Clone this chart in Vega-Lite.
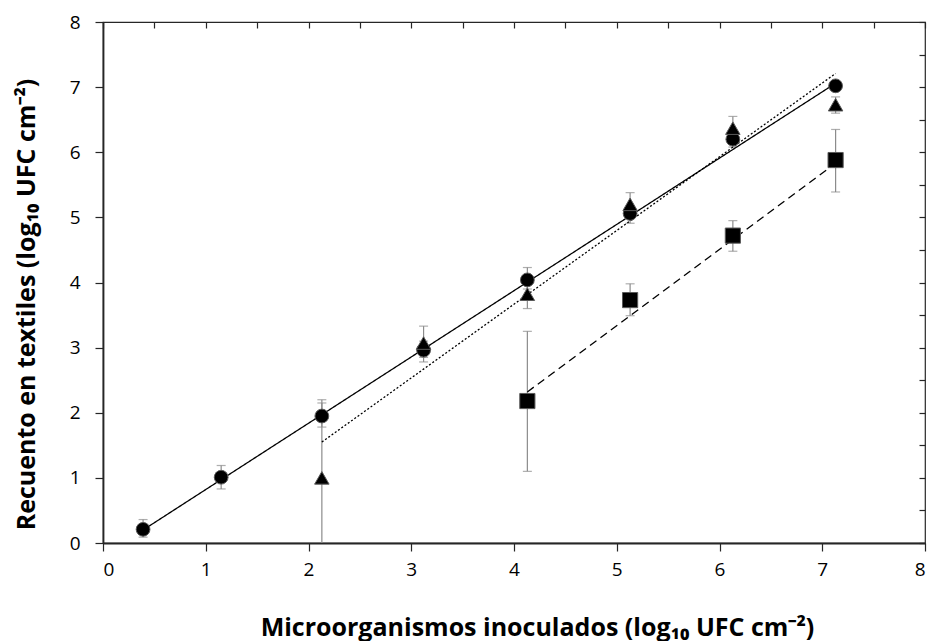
{
  "$schema": "https://vega.github.io/schema/vega-lite/v6.json",
  "width": 822,
  "height": 521,
  "autosize": {"type": "none"},
  "padding": {"left": 103, "top": 22, "right": 6, "bottom": 98},
  "background": "white",
  "config": {
    "view": {"stroke": "#262626", "strokeWidth": 1.2},
    "font": "Open Sans"
  },
  "datasets": {
    "puntos": [
      {"serie": "circulo", "x": 0.39, "y": 0.21, "lo": 0.09, "hi": 0.36},
      {"serie": "circulo", "x": 1.15, "y": 1.01, "lo": 0.83, "hi": 1.19},
      {"serie": "circulo", "x": 2.13, "y": 1.95, "lo": 1.78, "hi": 2.15},
      {"serie": "circulo", "x": 3.12, "y": 2.96, "lo": 2.78, "hi": 3.1},
      {"serie": "circulo", "x": 4.13, "y": 4.04, "lo": 3.9, "hi": 4.23},
      {"serie": "circulo", "x": 5.13, "y": 5.06, "lo": 4.91, "hi": 5.15},
      {"serie": "circulo", "x": 6.13, "y": 6.2, "lo": 6.08, "hi": 6.3},
      {"serie": "circulo", "x": 7.13, "y": 7.02, "lo": 6.95, "hi": 7.08},
      {"serie": "triangulo", "x": 2.13, "y": 1.0, "lo": -0.3, "hi": 2.2},
      {"serie": "triangulo", "x": 3.12, "y": 3.07, "lo": 2.85, "hi": 3.33},
      {"serie": "triangulo", "x": 4.13, "y": 3.82, "lo": 3.6, "hi": 4.0},
      {"serie": "triangulo", "x": 5.13, "y": 5.2, "lo": 5.0, "hi": 5.38},
      {"serie": "triangulo", "x": 6.13, "y": 6.37, "lo": 6.2, "hi": 6.55},
      {"serie": "triangulo", "x": 7.13, "y": 6.73, "lo": 6.6, "hi": 6.85},
      {"serie": "cuadrado", "x": 4.13, "y": 2.18, "lo": 1.1, "hi": 3.25},
      {"serie": "cuadrado", "x": 5.13, "y": 3.73, "lo": 3.49, "hi": 3.98},
      {"serie": "cuadrado", "x": 6.13, "y": 4.72, "lo": 4.48, "hi": 4.95},
      {"serie": "cuadrado", "x": 7.13, "y": 5.88, "lo": 5.39, "hi": 6.35}
    ],
    "rectas": [
      {"serie": "circulo", "x": 0.39, "y": 0.2},
      {"serie": "circulo", "x": 7.13, "y": 7.06},
      {"serie": "triangulo", "x": 2.13, "y": 1.55},
      {"serie": "triangulo", "x": 7.13, "y": 7.21},
      {"serie": "cuadrado", "x": 4.13, "y": 2.32},
      {"serie": "cuadrado", "x": 7.13, "y": 5.83}
    ]
  },
  "resolve": {"axis": {"x": "independent", "y": "independent"}},
  "layer": [
    {
      "data": {"name": "puntos"},
      "mark": {"type": "rule", "color": "#8c8c8c", "strokeWidth": 1.2, "clip": true},
      "encoding": {
        "x": {"field": "x", "type": "quantitative",
          "scale": {"domain": [0, 8], "nice": false},
          "axis": {"values": [0,1,2,3,4,5,6,7,8], "grid": false, "tickSize": 8, "tickColor": "#262626", "tickWidth": 1.2,
            "domainColor": "#262626", "domainWidth": 1.8,
            "labelFont": "Open Sans", "labelFontSize": 19, "labelColor": "#000000", "labelPadding": 9,
            "title": "Microorganismos inoculados (log₁₀ UFC cm⁻²)",
            "titleFont": "Open Sans", "titleFontSize": 25, "titleFontWeight": "bold", "titleColor": "#000000",
            "titleX": 434, "titleY": 84, "titleAnchor": null, "titleAlign": "center", "titleBaseline": "middle"}},
        "y": {"field": "lo", "type": "quantitative",
          "scale": {"domain": [0, 8], "nice": false},
          "axis": {"values": [0,1,2,3,4,5,6,7,8], "grid": false, "tickSize": 8, "tickColor": "#262626", "tickWidth": 1.2,
            "domainColor": "#262626", "domainWidth": 1.8,
            "labelFont": "Open Sans", "labelFontSize": 19, "labelColor": "#000000", "labelPadding": 15,
            "title": "Recuento en textiles (log₁₀ UFC cm⁻²)",
            "titleFont": "Open Sans", "titleFontSize": 25, "titleFontWeight": "bold", "titleColor": "#000000",
            "titleX": -77, "titleY": 282, "titleAngle": -90, "titleAlign": "center", "titleBaseline": "middle"}},
        "y2": {"field": "hi"}
      }
    },
    {
      "data": {"name": "puntos"},
      "mark": {"type": "tick", "orient": "horizontal", "color": "#8c8c8c", "size": 9, "thickness": 1.2, "clip": true},
      "encoding": {
        "x": {"field": "x", "type": "quantitative",
          "axis": {"values": [0,0.5,1,1.5,2,2.5,3,3.5,4,4.5,5,5.5,6,6.5,7,7.5,8], "grid": false, "labels": false, "domain": false, "title": null,
            "tickSize": -6, "tickColor": "#262626", "tickWidth": 1.2}},
        "y": {"field": "hi", "type": "quantitative",
          "axis": {"values": [0,0.5,1,1.5,2,2.5,3,3.5,4,4.5,5,5.5,6,6.5,7,7.5,8], "grid": false, "labels": false, "domain": false, "title": null,
            "tickSize": -6, "tickColor": "#262626", "tickWidth": 1.2}}
      }
    },
    {
      "data": {"name": "puntos"},
      "mark": {"type": "tick", "orient": "horizontal", "color": "#8c8c8c", "size": 9, "thickness": 1.2, "clip": true},
      "encoding": {
        "x": {"field": "x", "type": "quantitative", "axis": null},
        "y": {"field": "lo", "type": "quantitative", "axis": null}
      }
    },
    {
      "data": {"name": "rectas"},
      "mark": {"type": "line", "color": "#000000", "strokeWidth": 1.3},
      "encoding": {
        "x": {"field": "x", "type": "quantitative", "axis": null},
        "y": {"field": "y", "type": "quantitative", "axis": null},
        "strokeDash": {"field": "serie", "type": "nominal", "legend": null,
          "scale": {"domain": ["circulo", "triangulo", "cuadrado"], "range": [[1, 0], [2, 2], [8, 5]]}}
      }
    },
    {
      "data": {"name": "puntos"},
      "mark": {"type": "point", "filled": true, "fill": "#000000", "stroke": "#5a5a5a", "strokeWidth": 1, "opacity": 1},
      "encoding": {
        "x": {"field": "x", "type": "quantitative", "axis": null},
        "y": {"field": "y", "type": "quantitative", "axis": null},
        "shape": {"field": "serie", "type": "nominal", "legend": null,
          "scale": {"domain": ["circulo", "triangulo", "cuadrado"], "range": ["circle", "triangle-up", "square"]}},
        "size": {"field": "serie", "type": "nominal", "legend": null,
          "scale": {"domain": ["circulo", "triangulo", "cuadrado"], "range": [190, 230, 210]}}
      }
    }
  ]
}
